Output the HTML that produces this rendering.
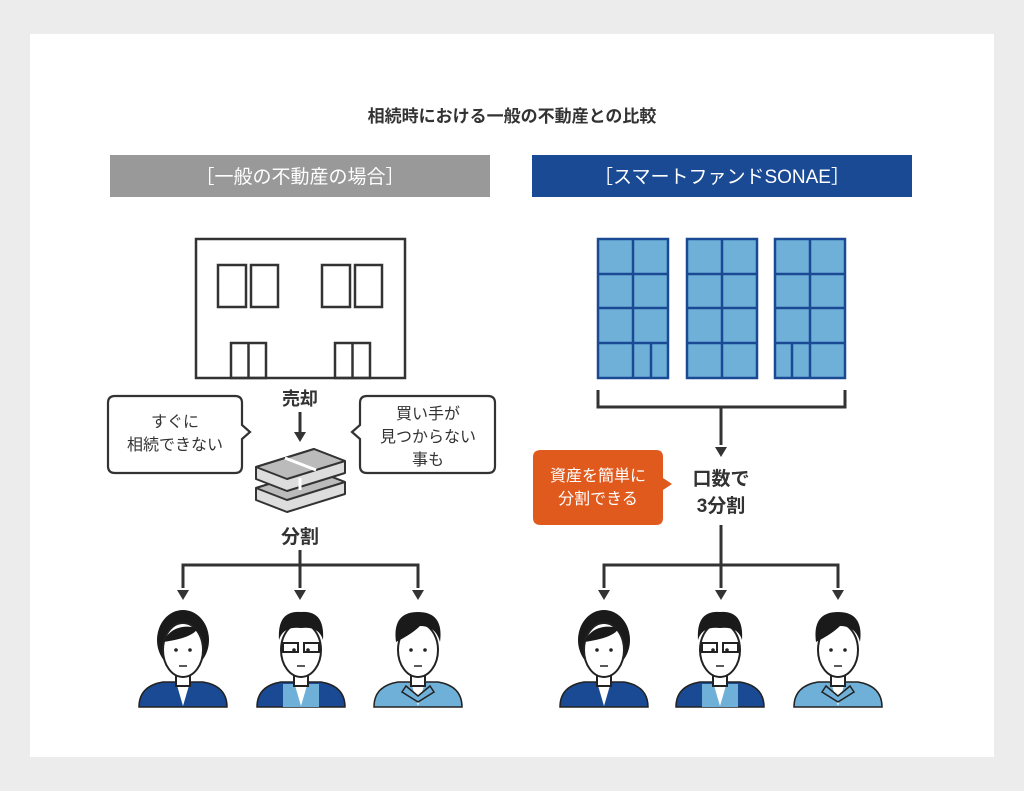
<!DOCTYPE html>
<html><head><meta charset="utf-8"><style>
html,body{margin:0;padding:0;background:#ececec;}
svg{display:block;}
text{font-family:"Liberation Sans","Noto Sans CJK JP",sans-serif;}
</style></head><body>
<svg width="1024" height="791" viewBox="0 0 1024 791" xmlns="http://www.w3.org/2000/svg">
<defs>
<g id="head">
  <path d="M0 96 L-7 72 L7 72 Z" fill="#fff"/>
  <rect x="-7" y="52" width="14" height="24" fill="#fff" stroke="#222" stroke-width="2"/>
  <ellipse cx="0" cy="40" rx="20" ry="27" fill="#fff" stroke="#222" stroke-width="2"/>
  <circle cx="-7" cy="40" r="1.8" fill="#222"/><circle cx="7" cy="40" r="1.8" fill="#222"/>
  <path d="M-4 56 L4 56" stroke="#222" stroke-width="1.5"/>
</g>
<g id="tri"><path d="M-6 -10 L6 -10 L0 0 Z" fill="#333"/></g>
<g id="bgrid" stroke="#1a4a94" stroke-width="2.5">
  <rect x="0" y="0" width="70" height="139" fill="#6fb0d8"/>
  <line x1="35" y1="0" x2="35" y2="139"/>
  <line x1="0" y1="35" x2="70" y2="35"/><line x1="0" y1="69" x2="70" y2="69"/><line x1="0" y1="104" x2="70" y2="104"/>
</g>
</defs>
<rect x="30" y="34" width="964" height="723" fill="#fff"/>
<text x="512" y="122" text-anchor="middle" font-size="17" font-weight="bold" fill="#333">相続時における一般の不動産との比較</text>
<rect x="110" y="155" width="380" height="42" fill="#999"/>
<text x="300" y="183" text-anchor="middle" font-size="19" fill="#fff">［一般の不動産の場合］</text>
<rect x="532" y="155" width="380" height="42" fill="#1a4a94"/>
<text x="722" y="183" text-anchor="middle" font-size="19" fill="#fff">［スマートファンドSONAE］</text>

<g fill="none" stroke="#333" stroke-width="2.5">
<rect x="196" y="239" width="209" height="139"/>
<rect x="218" y="265" width="28" height="42"/><rect x="251" y="265" width="27" height="42"/>
<rect x="322" y="265" width="28" height="42"/><rect x="355" y="265" width="27" height="42"/>
<rect x="231" y="343" width="35" height="35"/><line x1="248.5" y1="343" x2="248.5" y2="378"/>
<rect x="335" y="343" width="35" height="35"/><line x1="352.5" y1="343" x2="352.5" y2="378"/>
</g>
<text x="300" y="405" text-anchor="middle" font-size="18" font-weight="bold" fill="#333">売却</text>
<line x1="300" y1="412" x2="300" y2="432" stroke="#333" stroke-width="3"/>
<use href="#tri" x="300" y="442"/>
<path d="M115 396 H235 Q242 396 242 403 V425 L250 432 L242 439 V466 Q242 473 235 473 H115 Q108 473 108 466 V403 Q108 396 115 396 Z" fill="#fff" stroke="#333" stroke-width="2.2"/>
<text x="175" y="427" text-anchor="middle" font-size="16" fill="#333">すぐに</text>
<text x="175" y="450" text-anchor="middle" font-size="16" fill="#333">相続できない</text>
<path d="M367 396 H488 Q495 396 495 403 V466 Q495 473 488 473 H367 Q360 473 360 466 V439 L352 432 L360 425 V403 Q360 396 367 396 Z" fill="#fff" stroke="#333" stroke-width="2.2"/>
<text x="428" y="419" text-anchor="middle" font-size="16" fill="#333">買い手が</text>
<text x="428" y="442" text-anchor="middle" font-size="16" fill="#333">見つからない</text>
<text x="428" y="465" text-anchor="middle" font-size="16" fill="#333">事も</text>
<g stroke="#333" stroke-width="2" stroke-linejoin="round">
<path d="M256 488 L314 470 L345 482 L345 494 L287 512 L256 500 Z" fill="#ddd"/>
<path d="M256 488 L314 470 L345 482 L287 500 Z" fill="#bbb"/>
<path d="M256 467 L314 449 L345 461 L345 473 L287 491 L256 479 Z" fill="#ddd"/>
<path d="M256 467 L314 449 L345 461 L287 479 Z" fill="#bbb"/>
<path d="M285 458 L316 470 M300 478 L300 490" fill="none" stroke="#fff" stroke-width="3"/>
</g>
<text x="300" y="543" text-anchor="middle" font-size="19" font-weight="bold" fill="#333">分割</text>
<g stroke="#333" stroke-width="3" fill="none">
<line x1="300" y1="550" x2="300" y2="588"/>
<path d="M183 588 V565 H418 V588"/>
</g>
<use href="#tri" x="183" y="600"/><use href="#tri" x="300" y="600"/><use href="#tri" x="418" y="600"/>

<use href="#bgrid" x="598" y="239"/>
<use href="#bgrid" x="687" y="239"/>
<use href="#bgrid" x="775" y="239"/>
<g stroke="#1a4a94" stroke-width="2.5">
<line x1="651" y1="343" x2="651" y2="378"/><line x1="792" y1="343" x2="792" y2="378"/>
</g>
<g stroke="#333" stroke-width="3" fill="none">
<path d="M598 390 V407 H845 V390"/>
<line x1="721" y1="407" x2="721" y2="445"/>
</g>
<use href="#tri" x="721" y="457"/>
<path d="M541 450 H656 Q663 450 663 457 V478 L672 484 L663 490 V518 Q663 525 656 525 H541 Q533 525 533 518 V457 Q533 450 541 450 Z" fill="#e05a1e"/>
<text x="598" y="481" text-anchor="middle" font-size="16" fill="#fff">資産を簡単に</text>
<text x="598" y="504" text-anchor="middle" font-size="16" fill="#fff">分割できる</text>
<text x="721" y="485" text-anchor="middle" font-size="19" font-weight="bold" fill="#333">口数で</text>
<text x="721" y="512" text-anchor="middle" font-size="19" font-weight="bold" fill="#333">3分割</text>
<g stroke="#333" stroke-width="3" fill="none">
<line x1="721" y1="525" x2="721" y2="588"/>
<path d="M604 588 V565 H838 V588"/>
</g>
<use href="#tri" x="604" y="600"/><use href="#tri" x="721" y="600"/><use href="#tri" x="838" y="600"/>

<g id="p1" transform="translate(183,610)">
  <ellipse cx="0" cy="30" rx="26" ry="30" fill="#1a1a1a"/>
  <path d="M-44 97 Q-44 76 -20 72 L20 72 Q44 76 44 97 Z" fill="#1a4a94" stroke="#222" stroke-width="1.5"/>
  <use href="#head"/>
  <path d="M-20 32 Q-10 12 15 18 Q10 28 -20 32 Z" fill="#1a1a1a"/>
</g>
<g id="p2" transform="translate(301,610)">
  <path d="M-44 97 Q-44 76 -20 72 L20 72 Q44 76 44 97 Z" fill="#1a4a94" stroke="#222" stroke-width="1.5"/>
  <path d="M-18 97 L-18 74 L18 74 L18 97 Z" fill="#6fb0d8"/>
  <use href="#head"/>
  <path d="M-22 30 Q-24 0 0 2 Q24 0 22 30 Q18 16 0 18 Q-18 16 -22 30 Z" fill="#1a1a1a"/>
  <rect x="-18" y="33" width="15" height="9" fill="none" stroke="#222" stroke-width="2"/>
  <rect x="3" y="33" width="15" height="9" fill="none" stroke="#222" stroke-width="2"/>
</g>
<g id="p3" transform="translate(418,610)">
  <path d="M-44 97 Q-44 76 -20 72 L20 72 Q44 76 44 97 Z" fill="#6fb0d8" stroke="#222" stroke-width="1.5"/>
  <use href="#head"/>
  <path d="M-12 76 L0 86 L12 76 L16 82 L0 92 L-16 82 Z" fill="#6fb0d8" stroke="#222" stroke-width="1.5"/>
  <path d="M-22 32 Q-26 2 0 2 Q26 2 22 32 Q18 16 2 16 Q-6 24 -22 32 Z" fill="#1a1a1a"/>
</g>
<use href="#p1" transform="translate(421,0)"/>
<use href="#p2" transform="translate(419,0)"/>
<use href="#p3" transform="translate(420,0)"/>
</svg>
</body></html>
